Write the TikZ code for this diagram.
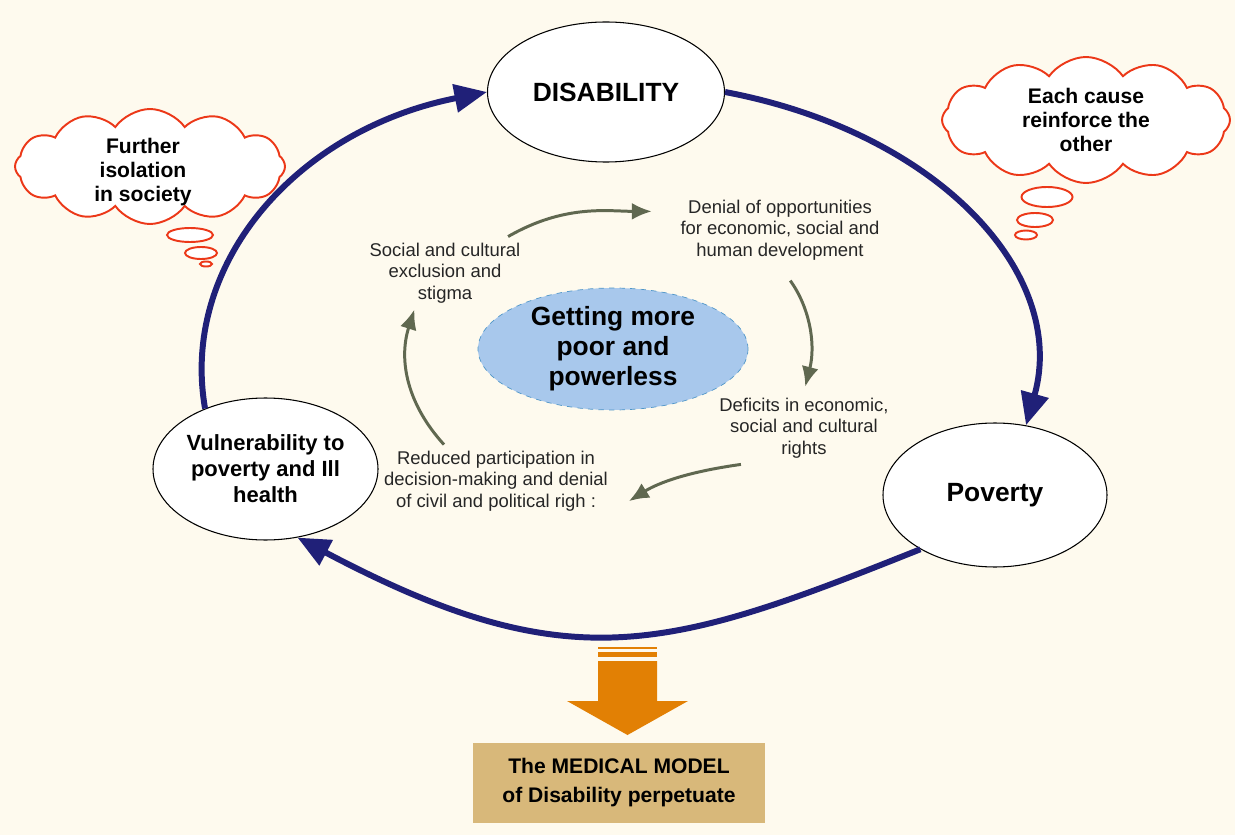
\documentclass[tikz,border=0pt]{standalone}
\usepackage{fontspec}
\setmainfont{Liberation Sans}
\usetikzlibrary{shapes.geometric,shapes.symbols,arrows.meta}
\definecolor{bg}{RGB}{254,250,238}
\definecolor{navy}{RGB}{32,32,120}
\definecolor{olive}{RGB}{96,104,80}
\definecolor{skyfill}{RGB}{168,200,236}
\definecolor{skyline}{RGB}{80,150,200}
\definecolor{cloudred}{RGB}{236,56,24}
\definecolor{orangearr}{RGB}{226,128,4}
\definecolor{tanbox}{RGB}{216,184,122}
\begin{document}
\begin{tikzpicture}[
    oval/.style={ellipse,draw,line width=0.6pt,fill=white,inner sep=0pt,align=center},
    bigarrow/.style={navy,line width=3.4pt,-{Triangle[length=6.5mm,width=5.5mm]}},
    smallarrow/.style={olive,line width=1.7pt,-{Latex[length=4mm,width=3.4mm]}},
    note/.style={align=center,text=black!85,font=\fontsize{10.5}{12.3}\selectfont},
    thought/.style={cloud,cloud ignores aspect,draw=cloudred,line width=1.1pt,fill=white,cloud puffs=12,cloud puff arc=110},
    thoughttext/.style={align=center,font=\bfseries\fontsize{12}{13.8}\selectfont},
    bubble/.style={ellipse,draw=cloudred,line width=1.1pt,fill=white,inner sep=0pt}
    ]
    \useasboundingbox (0,0) rectangle (24.7,16.7);
    \fill[bg] (0,0) rectangle (24.7,16.7);

    \node[thought,minimum width=5.4cm,minimum height=2.3cm,label={[thoughttext,xshift=-1.4mm,yshift=-1.1mm]center:Further\\isolation\\in society}] (iso) at (3.0,13.37) {};
    \node[bubble,minimum width=0.92cm,minimum height=0.28cm] (iso1) at (3.8,12.0) {};
    \node[bubble,minimum width=0.64cm,minimum height=0.24cm] (iso2) at (4.02,11.64) {};
    \node[bubble,minimum width=0.24cm,minimum height=0.1cm] (iso3) at (4.12,11.42) {};

    \node[thought,minimum width=5.76cm,minimum height=2.52cm,label={[thoughttext]center:Each cause\\reinforce the\\other}] (each) at (21.72,14.3) {};
    \node[bubble,minimum width=1.02cm,minimum height=0.4cm] (each1) at (20.94,12.76) {};
    \node[bubble,minimum width=0.72cm,minimum height=0.28cm] (each2) at (20.7,12.3) {};
    \node[bubble,minimum width=0.44cm,minimum height=0.18cm] (each3) at (20.52,12.0) {};

    \node[oval,minimum width=4.74cm,minimum height=2.8cm,font=\bfseries\fontsize{15}{17}\selectfont] (dis) at (12.12,14.86) {DISABILITY};
    \node[oval,minimum width=4.48cm,minimum height=2.88cm,font=\bfseries\fontsize{15}{17}\selectfont] (pov) at (19.9,6.8) {Poverty};
    \node[oval,minimum width=4.5cm,minimum height=2.84cm,font=\bfseries\fontsize{12.5}{14.8}\selectfont] (vul) at (5.31,7.32) {Vulnerability to\\poverty and Ill\\health};

    \node[ellipse,draw=skyline,dashed,fill=skyfill,minimum width=5.4cm,minimum height=2.44cm,inner sep=0pt,align=center,font=\bfseries\fontsize{15}{17}\selectfont] (core) at (12.26,9.72) {Getting more\\poor and\\powerless};

    \node[note] (soc) at (8.9,11.24) {Social and cultural\\exclusion and\\stigma};
    \node[note] (den) at (15.6,12.1) {Denial of opportunities\\for economic, social and\\human development};
    \node[note] (def) at (16.08,8.14) {Deficits in economic,\\social and cultural\\rights};
    \node[note] (red) at (9.92,7.08) {Reduced participation in\\decision-making and denial\\of civil and political righ :};

    \draw[bigarrow] (vul.135) .. controls (3.6,11.4) and (5.9,14.1) .. (dis.west);
    \draw[bigarrow] (dis.east) .. controls (18.78,14.05) and (21.37,11.21) .. (pov.66);
    \draw[bigarrow] (pov.216) .. controls (13.37,3.70) and (11.41,3.06) .. (vul.295);

    \draw[smallarrow,shorten >=4.5mm] (soc.30) to[out=30,in=180] (den.170);
    \draw[smallarrow,shorten <=3.5mm,shorten >=1mm] (den.south) to[bend left=25] (def.north);
    \draw[smallarrow,shorten >=3.5mm] (def.210) to[bend right=12] (red.-14);
    \draw[smallarrow] (red.145) to[bend left=30] (soc.230);

    \fill[orangearr] (11.96,3.76) rectangle (13.14,3.72);
    \fill[orangearr] (11.96,3.66) rectangle (13.14,3.56);
    \fill[orangearr] (11.96,3.48) -- (13.14,3.48) -- (13.14,2.68) -- (13.76,2.68) -- (12.55,2.0) -- (11.34,2.68) -- (11.96,2.68) -- cycle;

    \node[fill=tanbox,minimum width=5.84cm,minimum height=1.6cm,align=center,font=\bfseries\fontsize{12}{16.5}\selectfont] (med) at (12.38,1.04) {The MEDICAL MODEL\\of Disability perpetuate};
\end{tikzpicture}
\end{document}
